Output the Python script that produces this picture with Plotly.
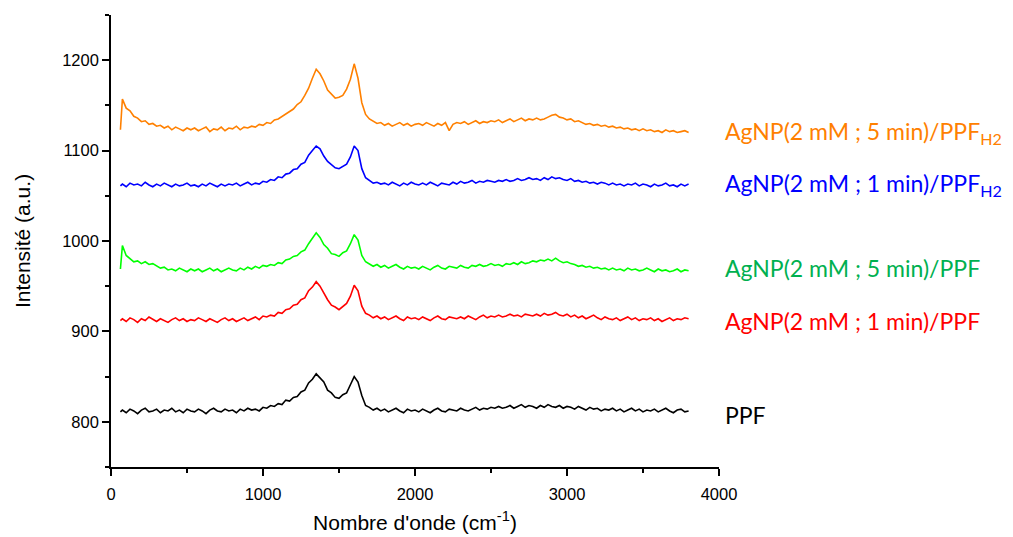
import plotly.graph_objects as go

wavenumber = [
    62, 75, 100, 125, 150, 175, 200, 225, 250, 275,
    300, 325, 350, 375, 400, 425, 450, 475, 500, 525,
    550, 575, 600, 625, 650, 675, 700, 725, 750, 775,
    800, 825, 850, 875, 900, 925, 950, 975, 1000, 1025,
    1050, 1075, 1100, 1125, 1150, 1175, 1200, 1225, 1250, 1275,
    1300, 1325, 1350, 1375, 1400, 1425, 1450, 1475, 1500, 1525,
    1550, 1575, 1600, 1625, 1650, 1675, 1700, 1725, 1750, 1775,
    1800, 1825, 1850, 1875, 1900, 1925, 1950, 1975, 2000, 2025,
    2050, 2075, 2100, 2125, 2150, 2175, 2200, 2225, 2250, 2275,
    2300, 2325, 2350, 2375, 2400, 2425, 2450, 2475, 2500, 2525,
    2550, 2575, 2600, 2625, 2650, 2675, 2700, 2725, 2750, 2775,
    2800, 2825, 2850, 2875, 2900, 2925, 2950, 2975, 3000, 3025,
    3050, 3075, 3100, 3125, 3150, 3175, 3200, 3225, 3250, 3275,
    3300, 3325, 3350, 3375, 3400, 3425, 3450, 3475, 3500, 3525,
    3550, 3575, 3600, 3625, 3650, 3675, 3700, 3725, 3750, 3775,
    3800,
]

ppf = [
    811, 813, 810, 814, 812, 809, 813, 815, 811, 812,
    814, 810, 813, 812, 815, 811, 813, 810, 814, 812,
    811, 814, 812, 809, 813, 815, 812, 811, 814, 812,
    813, 810, 814, 812, 815, 813, 814, 812, 816, 815,
    818, 817, 820, 819, 824, 823, 827, 828, 833, 835,
    843, 847, 853, 849, 844, 835, 832, 827, 826, 830,
    832, 841, 850, 844, 829, 818, 816, 813, 815, 812,
    814, 811, 813, 815, 812, 810, 814, 812, 813, 811,
    814, 812, 810, 813, 815, 812, 811, 814, 813, 812,
    815, 813, 812, 814, 816, 813, 815, 814, 816, 815,
    817, 815, 816, 818, 815, 817, 819, 816, 818, 817,
    815, 818, 816, 819, 817, 816, 818, 815, 817, 816,
    814, 817, 815, 813, 816, 814, 815, 812, 814, 813,
    815, 812, 814, 811, 813, 815, 812, 814, 811, 813,
    812, 814, 811, 813, 815, 812, 810, 813, 814, 811,
    812,
]

agnp_1min_ppf = [
    912, 914, 911, 915, 913, 910, 914, 912, 916, 913,
    911, 914, 912, 910, 913, 915, 912, 914, 911, 913,
    912, 915, 913, 911, 914, 912, 910, 913, 915, 912,
    914, 911, 913, 915, 912, 914, 916, 913, 917, 916,
    918, 917, 921, 920, 924, 925, 929, 930, 935, 937,
    945, 949, 955, 950, 942, 935, 929, 927, 924, 928,
    931, 939, 951, 945, 928, 920, 918, 915, 917, 914,
    916, 913, 915, 917, 914, 912, 916, 914, 915, 913,
    916, 914, 912, 915, 917, 914, 913, 916, 915, 914,
    916, 914, 917, 915, 913, 916, 918, 915, 917, 916,
    918, 916, 917, 919, 917, 918, 916, 919, 918, 917,
    919, 917, 920, 918, 919, 921, 918, 917, 919, 916,
    918, 915, 917, 914, 916, 918, 915, 913, 916, 914,
    913, 915, 912, 914, 916, 913, 915, 912, 914, 913,
    915, 912, 914, 911, 913, 915, 912, 914, 913, 915,
    914,
]

agnp_5min_ppf = [
    969, 995, 984, 980, 977, 978, 975, 977, 974, 975,
    972, 970, 971, 968, 969, 967, 970, 968, 966, 969,
    967, 969, 966, 968, 970, 967, 969, 966, 968, 970,
    968, 967, 970, 968, 971, 969, 972, 970, 973, 972,
    974, 973, 976, 975, 979, 980, 983, 984, 988, 990,
    997, 1003, 1009, 1004, 996, 992, 986, 985, 983, 987,
    989, 997, 1007, 1001, 984, 977, 974, 972, 974, 971,
    973, 970, 972, 974, 971, 969, 972, 970, 971, 969,
    972, 970, 968, 971, 973, 970, 969, 972, 971, 970,
    973, 971, 970, 973, 972, 974, 972, 973, 975, 973,
    974, 972, 975, 974, 976, 974, 977, 975, 976, 978,
    977, 979, 978, 980, 978, 981, 978, 976, 977, 975,
    974, 972, 973, 971, 972, 970, 971, 969, 970, 968,
    970, 968, 969, 967, 970, 968, 969, 967, 968, 970,
    968, 966, 969, 967, 968, 966, 967, 969, 966, 968,
    967,
]

agnp_1min_ppfh2 = [
    1061, 1063, 1060, 1064, 1062, 1063, 1061, 1065, 1062, 1060,
    1063, 1061, 1064, 1062, 1060, 1063, 1061, 1062, 1064, 1061,
    1062, 1060, 1063, 1061, 1064, 1062, 1060, 1063, 1061, 1063,
    1062, 1064, 1061, 1063, 1065, 1062, 1064, 1063, 1066, 1065,
    1068, 1067, 1071, 1070, 1074, 1075, 1079, 1080, 1085, 1087,
    1095, 1100, 1105, 1102, 1094, 1088, 1084, 1081, 1080, 1083,
    1085, 1093, 1105, 1100, 1080, 1070, 1067, 1064, 1065, 1063,
    1064, 1062, 1065, 1063, 1061, 1064, 1062, 1065, 1063, 1062,
    1064, 1062, 1065, 1063, 1061, 1064, 1063, 1062, 1065, 1063,
    1066, 1064, 1065, 1067, 1064, 1066, 1065, 1067, 1066, 1065,
    1067, 1066, 1068, 1066, 1067, 1069, 1067, 1068, 1070, 1068,
    1069, 1067, 1070, 1068, 1071, 1069, 1070, 1068, 1067, 1069,
    1066, 1067, 1065, 1066, 1064, 1065, 1063, 1065, 1064, 1062,
    1064, 1062, 1063, 1061, 1063, 1062, 1064, 1061, 1063, 1062,
    1060, 1063, 1061, 1062, 1064, 1061, 1062, 1060, 1063, 1061,
    1063,
]

agnp_5min_ppfh2 = [
    1123, 1157, 1147, 1144, 1138, 1136, 1132, 1133, 1129, 1130,
    1127, 1128, 1125, 1127, 1123, 1126, 1124, 1122, 1125, 1123,
    1125, 1122, 1124, 1126, 1121, 1124, 1123, 1126, 1122, 1125,
    1124, 1127, 1123, 1126, 1125, 1127, 1126, 1129, 1128, 1131,
    1130, 1134, 1135, 1138, 1140, 1144, 1146, 1151, 1154, 1161,
    1169, 1180, 1190, 1185, 1177, 1167, 1163, 1158, 1159, 1161,
    1168, 1179, 1196, 1180, 1153, 1140, 1135, 1132, 1130, 1131,
    1128, 1130, 1127, 1129, 1131, 1128, 1130, 1127, 1129, 1130,
    1128, 1131, 1129, 1127, 1130, 1128, 1131, 1122, 1129, 1131,
    1130, 1132, 1129, 1131, 1133, 1130, 1132, 1131, 1133, 1132,
    1134, 1131, 1133, 1135, 1132, 1134, 1136, 1133, 1135, 1134,
    1136, 1134, 1135, 1137, 1139, 1140, 1137, 1136, 1134, 1135,
    1132, 1133, 1131, 1129, 1130, 1128, 1129, 1127, 1128, 1126,
    1127, 1125, 1126, 1124, 1125, 1123, 1124, 1122, 1124, 1122,
    1123, 1121, 1122, 1120, 1123, 1121, 1122, 1120, 1121, 1122,
    1120,
]

series_names = [
    "PPF",
    "AgNP(2 mM ; 1 min)/PPF",
    "AgNP(2 mM ; 5 min)/PPF",
    "AgNP(2 mM ; 1 min)/PPF<sub>H2</sub>",
    "AgNP(2 mM ; 5 min)/PPF<sub>H2</sub>",
]
series_values = [ppf, agnp_1min_ppf, agnp_5min_ppf, agnp_1min_ppfh2, agnp_5min_ppfh2]
line_colors = ["#000000", "#FF0000", "#00FF00", "#0000FF", "#FF8000"]
label_colors = ["#000000", "#FF0000", "#00B050", "#0000FF", "#FF8000"]
label_y = [807, 912, 970, 1063, 1120]

x_ticks = [0, 1000, 2000, 3000, 4000]
y_ticks = [800, 900, 1000, 1100, 1200]

fig = go.Figure()
for name, vals, col in zip(series_names, series_values, line_colors):
    fig.add_trace(go.Scatter(
        x=wavenumber, y=vals, mode="lines", name=name,
        line=dict(color=col, width=1.6), showlegend=False,
    ))

for name, ly, col in zip(series_names, label_y, label_colors):
    fig.add_annotation(
        x=1.006, xref="paper", y=ly, yref="y",
        text=name, showarrow=False, xanchor="left", yanchor="middle",
        font=dict(family="Lato, Open Sans, sans-serif", size=23, color=col),
    )

axis_font = dict(family="Liberation Sans, Arial, sans-serif", size=16.5, color="#000000")
title_font = dict(family="Liberation Sans, Arial, sans-serif", size=21, color="#000000")

fig.update_layout(
    width=1013, height=537,
    margin=dict(l=103, r=302, t=7, b=78),
    paper_bgcolor="white", plot_bgcolor="white",
    font=axis_font,
)
fig.update_xaxes(
    range=[0, 4000], tickvals=x_ticks, ticktext=[str(v) for v in x_ticks],
    showline=True, linecolor="black", linewidth=1.6, mirror=False,
    ticks="outside", ticklen=7, tickwidth=1.5, tickcolor="black",
    ticklabelstandoff=4,
    showgrid=False, zeroline=False, tickfont=axis_font,
    minor=dict(dtick=500, ticks="outside", ticklen=4, tickwidth=1.5, tickcolor="black", showgrid=False),
    title=dict(text="Nombre d'onde (cm<sup>-1</sup>)", font=title_font, standoff=14),
)
fig.update_yaxes(
    range=[750, 1250], tickvals=y_ticks, ticktext=[str(v) for v in y_ticks],
    showline=True, linecolor="black", linewidth=1.6, mirror=False,
    ticks="outside", ticklen=7, tickwidth=1.5, tickcolor="black",
    showgrid=False, zeroline=False, tickfont=axis_font,
    minor=dict(dtick=50, tick0=750, ticks="outside", ticklen=4, tickwidth=1.5, tickcolor="black", showgrid=False),
    title=dict(text="Intensité (a.u.)", font=title_font, standoff=26),
)

fig.write_html("out.html")
